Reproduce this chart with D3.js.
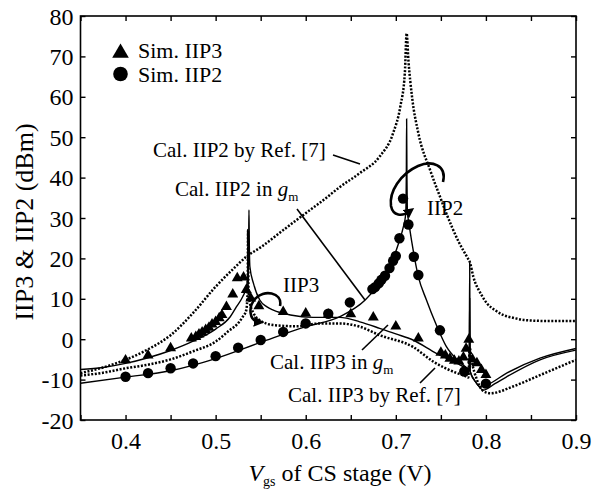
<!DOCTYPE html>
<html><head><meta charset="utf-8">
<script src="https://cdn.jsdelivr.net/npm/d3@7"></script>
<style>body{margin:0;background:#fff}svg{display:block}text{font-family:"Liberation Serif","Times New Roman",serif;fill:#000}</style>
</head><body><svg id="c" width="603" height="489"></svg>
<script>
// ---- data ----
const xTicks = [0.4,0.5,0.6,0.7,0.8,0.9];
const yTicks = [-20,-10,0,10,20,30,40,50,60,70,80];

// Cal. IIP2 by Ref. [7] (dotted)
const iip2RefX = [0.35,0.375,0.4,0.425,0.45,0.475,0.5,0.52,0.534,0.551,0.575,0.6,0.62,0.638,0.66,0.682,0.697,0.705,0.71,0.712,0.714,0.718,0.725,0.738,0.749,0.756,0.77,0.78,0.782,0.786,0.795,0.801,0.81,0.819,0.83,0.845,0.87,0.9];
const iip2RefY = [-8.4,-7.0,-5.1,-2.5,1.0,6.5,13,17.5,20.4,22.9,27,31.2,34.5,37.7,41.1,45.2,51,57.6,65.8,75.7,69,60,51,41.9,35.3,31.2,24,20,19.2,15.5,11,8.9,7.2,6,5.3,4.7,4.5,4.5];

// Cal. IIP2 in gm (solid)
const iip2GmX = [0.35,0.4,0.45,0.5,0.55,0.6,0.638,0.666,0.679,0.693,0.703,0.708,0.711,0.7117,0.712,0.7123,0.713,0.714,0.718,0.725,0.734,0.745,0.756,0.768,0.777,0.7815,0.782,0.7825,0.79,0.797,0.81,0.823,0.86,0.9];
const iip2GmY = [-10.9,-9.4,-7.8,-4.8,-0.8,3.1,5.6,9.7,13,17.9,23.7,27.5,31,42,54.5,42,31,29.5,23.7,15.5,9.7,3.5,-1.8,-5.1,-6.8,-7.5,10,-8,-11,-12.6,-11,-9.3,-5.1,-2.7];

// Cal. IIP3 in gm (solid)
const iip3GmX = [0.35,0.375,0.4,0.425,0.45,0.475,0.5,0.516,0.523,0.53,0.534,0.536,0.5367,0.537,0.5373,0.538,0.542,0.549,0.557,0.564,0.583,0.608,0.638,0.66,0.682,0.7,0.719,0.745,0.768,0.777,0.7815,0.782,0.7825,0.787,0.793,0.801,0.823,0.86,0.9];
const iip3GmY = [-7.5,-7.0,-6.0,-4.6,-2.8,-0.5,2.5,5.5,8,10.5,12.8,16,25,32,25,18,13.8,9.7,8,7.2,6,5.4,5.4,4.3,2.7,1.3,-0.2,-3.5,-6.0,-7.0,-7.3,19,-8,-10,-11.7,-11.3,-8.4,-4.7,-2.3];

// Cal. IIP3 by Ref. [7] (dotted)
const iip3RefX = [0.35,0.375,0.4,0.425,0.45,0.475,0.5,0.516,0.523,0.53,0.534,0.5355,0.536,0.5365,0.538,0.542,0.549,0.564,0.59,0.616,0.638,0.66,0.682,0.719,0.742,0.768,0.776,0.7805,0.782,0.784,0.79,0.797,0.805,0.83,0.86,0.9];
const iip3RefY = [-9.0,-8.3,-7.2,-6.3,-5.0,-3.0,-0.6,2.3,3.5,5.5,7.2,12,27,12,9,6.5,4.7,3.5,3.2,3.9,3.9,3.1,1.0,-1.9,-5.6,-8.4,-9.0,-9.5,-2,-5,-10,-12.8,-13.4,-11.7,-8.9,-5.1];

// Sim. IIP3 (triangles)
const simIIP3X = [0.4,0.425,0.45,0.473,0.478,0.4815,0.485,0.489,0.4926,0.496,0.5,0.504,0.507,0.512,0.519,0.524,0.531,0.534,0.539,0.548,0.575,0.6,0.625,0.65,0.675,0.7,0.725,0.75,0.755,0.76,0.765,0.77,0.775,0.778,0.781,0.785,0.79,0.795,0.8];
const simIIP3Y = [-5.2,-4.0,-2.2,0.2,0.6,1.2,1.7,2.3,2.9,3.7,4.3,5.2,6.0,8.0,11.1,15.1,15.3,12.2,10.1,8.2,6.8,6.4,6.1,6.2,5.4,3.2,0.2,-3.3,-4.0,-4.8,-5.3,-5.5,-4.5,-2.3,-0.1,-5.0,-5.9,-7.6,-8.8];

// Sim. IIP2 (circles)
const simIIP2X = [0.4,0.425,0.45,0.475,0.5,0.525,0.55,0.575,0.6,0.625,0.649,0.674,0.677,0.681,0.684,0.688,0.693,0.697,0.700,0.704,0.708,0.714,0.720,0.725,0.749,0.776,0.800];
const simIIP2Y = [-9.3,-8.4,-7.2,-6.0,-4.2,-2.1,-0.2,1.8,3.9,6.3,9.1,12.4,12.9,13.8,14.7,15.7,17.6,19.4,20.6,25.0,34.8,28.4,20.4,15.9,2.2,-8.0,-11.0];

// ---- drawing ----
const svg = d3.select("#c");
const L = 80.5, R = 576, T = 16, B = 420;
const x = d3.scaleLinear().domain([0.35,0.9]).range([L,R]);
const y = d3.scaleLinear().domain([-20,80]).range([B,T]);
const zip = (xs,ys)=>xs.map((v,i)=>[v,ys[i]]);
const line = d3.line().x(d=>x(d[0])).y(d=>y(d[1])).curve(d3.curveMonotoneX);

const plot = svg.append("g");
plot.append("defs").append("clipPath").attr("id","clip")
  .append("rect").attr("x",L).attr("y",T).attr("width",R-L).attr("height",B-T);
const g = plot.append("g").attr("clip-path","url(#clip)");

function drawCurve(xs,ys,dotted){
  g.append("path").datum(zip(xs,ys)).attr("d",line)
   .attr("fill","none").attr("stroke","#000")
   .attr("stroke-width",dotted?2.5:1.4)
   .attr("stroke-dasharray",dotted?"2,1.6":null);
}
drawCurve(iip2RefX,iip2RefY,true);
drawCurve(iip3RefX,iip3RefY,true);
drawCurve(iip2GmX,iip2GmY,false);
drawCurve(iip3GmX,iip3GmY,false);

const tri = d3.symbol().type(d3.symbolTriangle);
g.selectAll(".tri").data(zip(simIIP3X,simIIP3Y)).enter().append("path")
  .attr("d",tri.size(52)).attr("transform",d=>`translate(${x(d[0])},${y(d[1])})`).attr("fill","#000");
g.selectAll(".cir").data(zip(simIIP2X,simIIP2Y)).enter().append("circle")
  .attr("cx",d=>x(d[0])).attr("cy",d=>y(d[1])).attr("r",5.2).attr("fill","#000");

// axes (ticks inward, mirrored)
const xMinor = d3.range(0.35,0.9001,0.05);
const fontTick = 24;
const axB = d3.axisBottom(x).tickValues(xMinor).tickSizeInner(-5).tickSizeOuter(0).tickFormat(d=>xTicks.some(t=>Math.abs(t-d)<1e-6)?d3.format(".1f")(d):"");
const axT = d3.axisTop(x).tickValues(xMinor).tickSizeInner(-5).tickSizeOuter(0).tickFormat("");
const axL = d3.axisLeft(y).tickValues(yTicks).tickSizeInner(-5).tickSizeOuter(0).tickFormat(d=>String(d));
const axR = d3.axisRight(y).tickValues(yTicks).tickSizeInner(-5).tickSizeOuter(0).tickFormat("");
function style(sel){sel.select(".domain").remove();sel.selectAll("line").attr("stroke","#000").attr("stroke-width",1.4);
  sel.selectAll("text").style("font-family",'"Liberation Serif",serif').style("font-size",fontTick+"px").attr("fill","#000");}
svg.append("g").attr("transform",`translate(0,${B})`).call(axB).call(style).selectAll("text").attr("y",6).attr("dy","0.95em");
svg.append("g").attr("transform",`translate(0,${T})`).call(axT).call(style);
svg.append("g").attr("transform",`translate(${L},0)`).call(axL).call(style).selectAll("text").attr("x",-7).attr("dy","0.34em");
svg.append("g").attr("transform",`translate(${R},0)`).call(axR).call(style);
svg.append("rect").attr("x",L).attr("y",T).attr("width",R-L).attr("height",B-T).attr("fill","none").attr("stroke","#000").attr("stroke-width",1.6);

// axis titles
svg.append("text").attr("transform","translate(33,222) rotate(-90)").attr("text-anchor","middle")
  .style("font-size","26px").text("IIP3 & IIP2 (dBm)");
const xt = svg.append("text").attr("x",340).attr("y",481).attr("text-anchor","middle").style("font-size","24px");
xt.append("tspan").style("font-style","italic").text("V");
xt.append("tspan").attr("dy",5).style("font-size","14px").text("gs");
xt.append("tspan").attr("dy",-5).text(" of CS stage (V)");

// legend
svg.append("path").attr("d",d3.symbol().type(d3.symbolTriangle).size(120)()).attr("transform","translate(120.5,53)").attr("fill","#000");
svg.append("circle").attr("cx",120.5).attr("cy",74).attr("r",7.3).attr("fill","#000");
svg.append("text").attr("x",138).attr("y",58).style("font-size","22px").text("Sim. IIP3");
svg.append("text").attr("x",138).attr("y",82).style("font-size","22px").text("Sim. IIP2");

// annotations
function ann(tx,ty,txt,sub){const t=svg.append("text").attr("x",tx).attr("y",ty).style("font-size","21px");
  t.append("tspan").text(txt); if(sub){t.append("tspan").style("font-style","italic").text(" g");t.append("tspan").attr("dy",5).style("font-size","13px").text("m");}}
ann(153,157,"Cal. IIP2 by Ref. [7]");
ann(175,196,"Cal. IIP2 in",true);
ann(283,292,"IIP3");
ann(427,215,"IIP2");
ann(270,369,"Cal. IIP3 in",true);
ann(288,402,"Cal. IIP3 by Ref. [7]");
const seg=(a,b,c,d)=>svg.append("line").attr("x1",a).attr("y1",b).attr("x2",c).attr("y2",d).attr("stroke","#000").attr("stroke-width",1.6);
seg(333,155,360,164);
seg(297,209,365,300);
seg(362,350,388,325);
seg(420,383,435,368);

// curly arrows
svg.append("defs").append("marker").attr("id","ah").attr("viewBox","0 0 10 10").attr("refX",5).attr("refY",5)
  .attr("markerWidth",4).attr("markerHeight",4).attr("orient","auto")
  .append("path").attr("d","M0,0 L10,5 L0,10 z").attr("fill","#000");
svg.append("path").attr("d","M280,306 C283,292 263,289 255,299 C248,307 249,321 259,322")
  .attr("fill","none").attr("stroke","#000").attr("stroke-width",2.6).attr("marker-end","url(#ah)");
svg.append("path").attr("d","M443,182 C447,165 432,160 418,166 C400,174 389,192 391,206 C393,216 402,217 410,211")
  .attr("fill","none").attr("stroke","#000").attr("stroke-width",2.6).attr("marker-end","url(#ah)");
</script></body></html>
